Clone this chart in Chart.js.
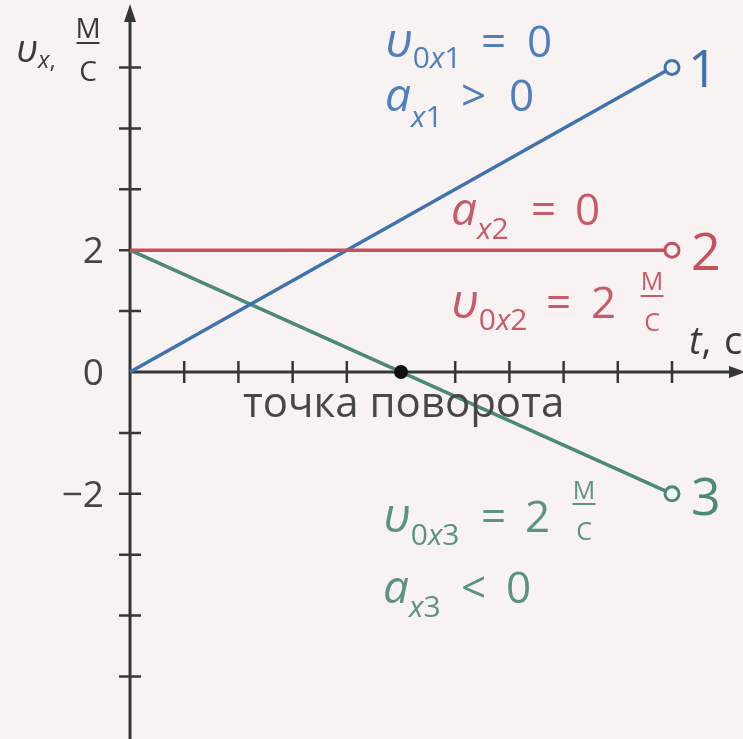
<!DOCTYPE html>
<html>
<head>
<meta charset="utf-8">
<script src="https://cdn.jsdelivr.net/npm/chart.js@4"></script>
<style>
  html, body { margin: 0; padding: 0; background: #f8f2f2; }
  #wrap { width: 743px; height: 739px; }
</style>
</head>
<body>
<div id="wrap"><canvas id="chart" width="743" height="739"></canvas></div>
<script>
// data
const t1 = [0, 10];
const v1 = [0, 5];
const t2 = [0, 10];
const v2 = [2, 2];
const t3 = [0, 10];
const v3 = [2, -2];
const turnT = [5];
const turnV = [0];
const xTicks = [1, 2, 3, 4, 5, 6, 7, 8, 9, 10];
const yTicks = [-5, -4, -3, -2, -1, 1, 2, 3, 4, 5];
const yTickLabels = [2, 0, -2];

const BLUE = '#3f73b0', BLUE_TXT = '#4f7fbd';
const RED = '#c5505e', RED_TXT = '#c75c68';
const GREEN = '#4b8a77', GREEN_TXT = '#5a9382';
const AXIS = '#363636';
const FONT = '"Open Sans", "Noto Sans", sans-serif';

function pts(xs, ys) {
    return xs.map((x, i) => ({ x: x, y: ys[i] }));
}

function lineSet(xs, ys, color, fill) {
    return {
        data: pts(xs, ys),
        showLine: true,
        borderColor: color,
        borderWidth: 3.5,
        pointRadius: xs.map((x, i) => i === xs.length - 1 ? 7 : 0),
        pointBackgroundColor: fill,
        pointBorderColor: color,
        pointBorderWidth: 3
    };
}

// text helper: parts flow left to right unless x is given
function drawLine(ctx, color, parts) {
    let cx = 0;
    parts.forEach(p => {
        ctx.font = (p.i ? 'italic ' : '') + p.s + 'px ' + FONT;
        ctx.fillStyle = color;
        if (p.x !== undefined) cx = p.x;
        if (p.frac) {
            ctx.textAlign = 'center';
            ctx.fillText(p.frac[0], cx, p.num);
            ctx.fillText(p.frac[1], cx, p.den);
            ctx.strokeStyle = color;
            ctx.lineWidth = 2;
            ctx.beginPath();
            ctx.moveTo(cx - p.w / 2, p.y);
            ctx.lineTo(cx + p.w / 2, p.y);
            ctx.stroke();
            ctx.textAlign = 'left';
            return;
        }
        ctx.textAlign = 'left';
        ctx.fillText(p.t, cx, p.y);
        cx += ctx.measureText(p.t).width;
    });
}

const axesPlugin = {
    id: 'axes',
    beforeDatasetsDraw(chart) {
        const ctx = chart.ctx;
        const xs = chart.scales.x, ys = chart.scales.y;
        const x0 = xs.getPixelForValue(0), y0 = ys.getPixelForValue(0);
        ctx.save();
        ctx.strokeStyle = AXIS;
        ctx.fillStyle = AXIS;
        ctx.lineWidth = 3;
        ctx.beginPath();
        ctx.moveTo(x0, 10);
        ctx.lineTo(x0, chart.height);
        ctx.moveTo(x0, y0);
        ctx.lineTo(chart.width - 6, y0);
        ctx.stroke();
        // arrows
        ctx.beginPath();
        ctx.moveTo(x0, 4);
        ctx.lineTo(x0 - 6, 22);
        ctx.lineTo(x0 + 6, 22);
        ctx.closePath();
        ctx.fill();
        ctx.beginPath();
        ctx.moveTo(chart.width + 3, y0);
        ctx.lineTo(chart.width - 14, y0 - 6);
        ctx.lineTo(chart.width - 14, y0 + 6);
        ctx.closePath();
        ctx.fill();
        // ticks
        ctx.lineWidth = 2.5;
        ctx.beginPath();
        yTicks.forEach(v => {
            const y = ys.getPixelForValue(v);
            ctx.moveTo(x0 - 11, y);
            ctx.lineTo(x0 + 11, y);
        });
        xTicks.forEach(v => {
            if (v === turnT[0]) return;
            const x = xs.getPixelForValue(v);
            ctx.moveTo(x, y0 - 11);
            ctx.lineTo(x, y0 + 11);
        });
        ctx.stroke();
        // tick labels
        ctx.fillStyle = '#444';
        ctx.font = '37px ' + FONT;
        ctx.textAlign = 'right';
        yTickLabels.forEach(v => {
            ctx.fillText(v < 0 ? '\u2212' + Math.abs(v) : String(v), x0 - 26, ys.getPixelForValue(v) + 13);
        });
        ctx.restore();
    },
    afterDatasetsDraw(chart) {
        const ctx = chart.ctx;
        ctx.save();
        ctx.textBaseline = 'alphabetic';
        // axis titles
        drawLine(ctx, '#3a3a3a', [
            { t: 'υ', s: 38, i: true, x: 16, y: 62 },
            { t: 'x', s: 24, i: true, y: 68 },
            { t: ',', s: 24, y: 68 },
            { frac: ['М', 'С'], s: 28, x: 88, y: 43, num: 38, den: 81, w: 23 }
        ]);
        drawLine(ctx, '#3a3a3a', [
            { t: 't', s: 38, i: true, x: 689, y: 354 },
            { t: ',', s: 38, y: 354 },
            { t: 'с', s: 38, x: 724, y: 354 }
        ]);
        drawLine(ctx, '#474747', [{ t: 'точка поворота', s: 42, x: 243, y: 417 }]);

        // series 1
        drawLine(ctx, BLUE_TXT, [
            { t: 'υ', s: 48, i: true, x: 385, y: 57 },
            { t: '0', s: 30, y: 68 }, { t: 'x', s: 30, i: true, y: 68 }, { t: '1', s: 30, y: 68 },
            { t: '=', s: 44, x: 481, y: 57 },
            { t: '0', s: 44, x: 527, y: 57 }
        ]);
        drawLine(ctx, BLUE_TXT, [
            { t: 'a', s: 46, i: true, x: 385, y: 111 },
            { t: 'x', s: 30, i: true, y: 127 }, { t: '1', s: 30, y: 127 },
            { t: '>', s: 44, x: 461, y: 111 },
            { t: '0', s: 44, x: 509, y: 111 }
        ]);
        drawLine(ctx, BLUE, [{ t: '1', s: 52, x: 688, y: 87 }]);

        // series 2
        drawLine(ctx, RED_TXT, [
            { t: 'a', s: 46, i: true, x: 451, y: 225 },
            { t: 'x', s: 30, i: true, y: 239 }, { t: '2', s: 30, y: 239 },
            { t: '=', s: 44, x: 531, y: 225 },
            { t: '0', s: 44, x: 575, y: 225 }
        ]);
        drawLine(ctx, RED_TXT, [
            { t: 'υ', s: 48, i: true, x: 451, y: 318 },
            { t: '0', s: 30, y: 330 }, { t: 'x', s: 30, i: true, y: 330 }, { t: '2', s: 30, y: 330 },
            { t: '=', s: 44, x: 546, y: 318 },
            { t: '2', s: 44, x: 591, y: 318 },
            { frac: ['М', 'С'], s: 25, x: 652, y: 296, num: 290, den: 331, w: 23 }
        ]);
        drawLine(ctx, RED, [{ t: '2', s: 52, x: 691, y: 270 }]);

        // series 3
        drawLine(ctx, GREEN_TXT, [
            { t: 'υ', s: 48, i: true, x: 383, y: 532 },
            { t: '0', s: 30, y: 545 }, { t: 'x', s: 30, i: true, y: 545 }, { t: '3', s: 30, y: 545 },
            { t: '=', s: 44, x: 481, y: 532 },
            { t: '2', s: 44, x: 525, y: 532 },
            { frac: ['М', 'С'], s: 25, x: 584, y: 504, num: 499, den: 540, w: 23 }
        ]);
        drawLine(ctx, GREEN_TXT, [
            { t: 'a', s: 46, i: true, x: 383, y: 603 },
            { t: 'x', s: 30, i: true, y: 617 }, { t: '3', s: 30, y: 617 },
            { t: '<', s: 44, x: 461, y: 603 },
            { t: '0', s: 44, x: 506, y: 603 }
        ]);
        drawLine(ctx, GREEN, [{ t: '3', s: 52, x: 691, y: 515 }]);
        ctx.restore();
    }
};

const ctx = document.getElementById('chart').getContext('2d');
new Chart(ctx, {
    type: 'scatter',
    data: {
        datasets: [
            {
                data: pts(turnT, turnV),
                pointRadius: 7,
                pointBackgroundColor: '#111',
                pointBorderColor: '#111',
                pointBorderWidth: 0,
                showLine: false
            },
            lineSet(t2, v2, RED, '#fbf4f4'),
            lineSet(t1, v1, BLUE, '#eef5fa'),
            lineSet(t3, v3, GREEN, '#eef8f5')
        ]
    },
    options: {
        responsive: false,
        animation: false,
        layout: { padding: 0, autoPadding: false },
        plugins: { legend: { display: false }, tooltip: { enabled: false } },
        scales: {
            x: { type: 'linear', display: false, min: -2.399, max: 11.31 },
            y: { type: 'linear', display: false, min: -6.026, max: 6.108 }
        }
    },
    plugins: [axesPlugin]
});
</script>
</body>
</html>
